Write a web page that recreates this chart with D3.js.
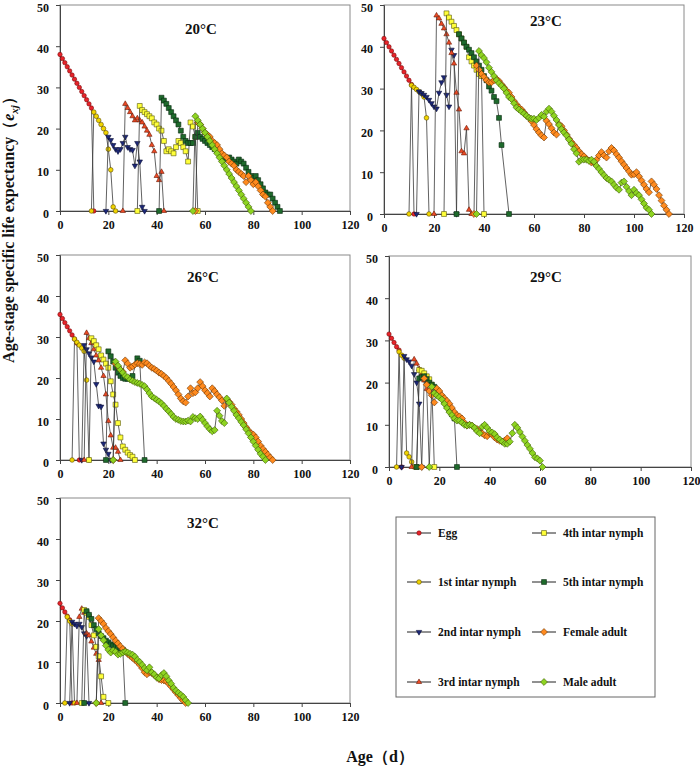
<!DOCTYPE html>
<html><head><meta charset="utf-8">
<script src="https://cdn.jsdelivr.net/npm/d3@7"></script>
<style>
body{margin:0;background:#fff}
svg text{font-family:"Liberation Serif","Times New Roman",serif;font-weight:bold;fill:#111}
</style>
</head><body><svg id="c" width="700" height="767"></svg>
<script>
// ---------------- DATA ----------------
const stages = ["Egg","1st intar nymph","2nd intar nymph","3rd intar nymph","4th intar nymph","5th intar nymph","Female adult","Male adult"];
const temps = ["20°C","23°C","26°C","29°C","32°C"];
const xTicks = [0,20,40,60,80,100,120];
const yTicks = [0,10,20,30,40,50];
// each series: [first age (d), e_xj on consecutive days]; null = no point that day
const e20 = [
  [0,[38,37,36,35,34,33,32,31,30,29,28,27,26,25,0]],
  [13,[0,24,23,22,21,20,19,15,10,1,0]],
  [19,[0,18,17.2,16,15,14.5,15,16.5,18,15.5,15,14.8,11,16.5,12,1,0]],
  [26,[0,26,25,24,23,22,22.5,22,21.5,20.5,19.5,18.5,16,14.5,8.5,7.5,9.5,0]],
  [32,[0,25.5,24.5,24,23.5,23,22.5,21.5,21,20,19.5,17,14.5,15,14.5,14,15.5,17,16.5,15.5,14.5,12,21.5,20.5,18,0]],
  [41,[0,27.5,26.8,26,25,24,23,22,21,19.5,18,17,16.5,16.5,16.5,18,19,18,17.5,17,16.5,16,15.5,15,14.5,14,13.5,13,12.5,13,12.5,12,11.5,12.5,12,11.5,10.5,9.5,8.5,8,8.5,7.5,6.5,5.5,4.5,4,4,3,2,1,0]],
  [56,[0,21.5,21,20,19,18.5,18,17,16.5,16,15,14,13.5,13,12,11.5,11,10,9.5,9,8.5,7,8.5,7.5,6.5,7,6,5,4,3.5,2,1,0]],
  [55,[0,23,22,21,20,19,18,17,16,15,14,13,12,11,10,9,8,7,6,5,4,3,2,1,0]]
];
const e23 = [
  [0,[42,41,40,39,38,37,36,35,34,33,32,31,0]],
  [10,[0,30.8,30.3,29.8,29.3,28.8,28,23,0]],
  [13,[0,29.3,28.9,28.5,28,27.3,26.5,25.7,25.2,29,31.5,32.7,28.5,25.7,39.3,38,0]],
  [20,[0,47.5,46.8,45.5,44.4,43,41,38.5,36,29,25,15,14.5,20.5,1,0]],
  [24,[0,48,47,46,45,44,43,42,41,40,37.5,36.5,35.5,34.5,33.5,33,0]],
  [29,[0,43,42,41,40,39.3,38.5,37.5,36.5,35.5,34.5,33,32,30.5,29.5,28,27,23,16.5,null,null,0]],
  [36,[0,35.5,34.5,33.5,32.8,32,31.5,31.5,32,32.3,31.8,31,30.3,29.5,29,28,27,26.2,25.5,25,24.3,23.5,23,22.2,21.3,20.3,19.5,18.8,18.3,22.3,21.5,20.5,19.5,19,21.5,21,20,19,18,17.2,16.5,15.8,15,14.3,13.8,13.2,12.8,12.3,12.3,13,14,14.8,14,13.5,15,15.8,15.2,14.3,13.5,12.6,11.8,11,10.2,9.4,9.5,10,9,8,7,6,5.2,7.8,7,6,4.5,3.2,2,1,0]],
  [37,[0,39,38,37.3,36.3,35,34,33,32,31.3,30.7,30,29,28,27.5,26.5,25.5,25,24.5,24,23.5,23,22.8,22.8,22.5,23,23.7,23.3,24.5,25.2,24.5,23.5,22.5,21.3,20.3,19.5,18.8,17.8,16.8,15.5,14.5,12.5,13,13,13,12.7,13,12.5,11.5,10.8,10,9.3,8.6,8.2,7.8,7,6.3,5.8,7.5,7.8,6.5,5.5,4.5,5.8,5,4.5,3.5,2.5,1.5,1,0]]
];
const e26 = [
  [0,[35.5,34.5,33.5,32.5,31.5,30.5,29.5,28.5,0]],
  [5,[0,29.5,28.7,28,27.3,26.5,19.5,0]],
  [9,[0,28,27,26,25,24,18.5,13.2,13,4,2.5,1.5,0]],
  [10,[0,31,29.7,28.5,27,25.5,24.3,22.5,20.5,16,9.5,6,3,3,2,0]],
  [12,[0,29.7,29,28,27,25.5,24.5,23.5,22.5,19.2,16,13.5,9,5.5,3.3,2.5,1.8,1.2,0.8,0]],
  [19,[0,26.5,25.3,24,22.5,21.3,20.5,20,19.8,19.8,20,20.5,null,24.8,24.2,null,0]],
  [22,[0,23.5,22.8,22,21.5,24.3,23.5,22.5,22.8,23.3,23.6,23.4,23.2,23.8,23.6,23,22.5,22.2,21.8,21.3,21,20.5,20,19.3,18.6,17.8,17,16,15,14.3,14,15.5,17.5,16.3,16.5,17.5,19,18,17,16.3,15.5,17.5,16.8,16,15.3,14.5,13.2,14.8,14.2,13.5,12.5,11.8,11,10,9,8,7.2,6.5,6.2,5.5,4.5,3.5,2.7,2,1.3,0.6,0]],
  [22,[0,24,23,22,21.3,20.5,20.2,19.6,19.3,19,18.8,18.6,18.3,18,17.2,16.3,15.5,15.1,14.7,14.3,13.8,13.2,12.5,11.9,11.2,10.5,10,9.8,9.5,9.4,9.4,9.6,9.4,10.5,10.2,10,10.6,9.8,9,8.2,7.5,7,7.3,12,10.8,9.5,9,15,14,13,12,11,10.2,9.3,8.5,7.5,6.5,5.5,4.5,3.5,2.5,1.5,0.8,0]]
];
const e29 = [
  [0,[31.5,30.5,29.5,28.5,27.7,0]],
  [3,[0,27.3,26.5,25.8,3.3,2.4,1.2,0]],
  [5,[0,26.3,25.5,25,24,22,20,15,0]],
  [9,[0,25.5,24.5,23.2,22,20.5,18.5,0]],
  [11,[0,23,22.8,22.2,21.5,20.8,19.5,0]],
  [11,[0,21,21.3,21.5,20.8,20,19.5,19,18,17.3,16.5,15.5,14.5,13.5,12.5,11.5,0]],
  [13,[0,21,19.5,18,17,15.3,18.6,18,17,16.3,15.7,15,14,13,12.3,12,11.5,10.5,9.8,10,9.8,9.3,9,8.5,8,7.5,7.3,8,7.7,7,6.5,6.2,6,6.3,6.8]],
  [16,[0,19,17.5,17,16.5,16,15,14,13,12.3,11.5,11,11,10.5,10,9.8,10,9.8,9.3,8.5,8,9.5,10,9.3,8.5,8.2,7.8,7,6.5,6,5.5,5.5,6,8,10,9.3,8.3,7.2,6.2,5.2,4.3,3.3,2.3,2,1.5,0]]
];
const e32 = [
  [0,[24.3,23.2,22.2,21.2,20.3,0]],
  [2,[0,21,20,19.3,0]],
  [4,[0,19.8,19.3,18.8,19.3,18.5,17,16.3,0]],
  [7,[0,21,23,22,17,16.5,15,13.5,12,10.5,0]],
  [9,[0,22.7,22,21,19,16.5,13.7,11.4,6.5,1.5,null,0]],
  [10,[0,22.4,21.5,20.5,19,18,17,16.3,15.8,15.2,14.8,14.3,14,13.8,13.5,13.3,13,0]],
  [15,[0,20.7,20,19.3,18.3,17.5,16.8,16,15.2,14.5,13.8,13.2,12.6,12,11.5,11,10.5,10,9.3,8.5,7.5,7,7.5,7.3,6.8,6.3,5.8,5.6,5.5,5.3,4.7,4,3.3,2.6,1.9,1.2,0.6,0]],
  [15,[0,18,16.5,15.3,14,13,12.3,12.8,12.5,11.8,12,12.3,12.5,12.3,12,11.8,11.3,10.5,10,9.3,8.5,8,8.7,7.5,7,6.2,6,6.8,7.3,6.5,5.5,4.7,3.7,3,2.5,2,1.5,0.7,0]]
];
const panelData = [e20, e23, e26, e29, e32];

// ---------------- LAYOUT / STYLE ----------------
const panels = [
  {l:60, r:350, t:5,   b:211, tx:201, ty:34},
  {l:384,r:684, t:5,   b:214, tx:546, ty:26},
  {l:60, r:350, t:255, b:460, tx:203, ty:282},
  {l:389,r:691, t:256, b:467, tx:546, ty:282},
  {l:60, r:350, t:498, b:703, tx:203, ty:528}
];
const tri = dir => ({draw(ctx,size){const a=Math.sqrt(size),h=a*0.866;
  ctx.moveTo(0,-dir*h*2/3);ctx.lineTo(a/2,dir*h/3);ctx.lineTo(-a/2,dir*h/3);ctx.closePath();}});
const diamond = {draw(ctx,size){const r=Math.sqrt(size/2);
  ctx.moveTo(0,-r);ctx.lineTo(r,0);ctx.lineTo(0,r);ctx.lineTo(-r,0);ctx.closePath();}};
const styles = [
  {type:d3.symbolCircle, size:15, fill:"#e8232a", stroke:"#7a0c0c"},
  {type:d3.symbolCircle, size:17, fill:"#f0d400", stroke:"#5e4e00"},
  {type:tri(-1), size:30, fill:"#1c2878", stroke:"#0b0f35"},
  {type:tri(1),  size:28, fill:"#ec4a25", stroke:"#6a1a05"},
  {type:d3.symbolSquare, size:24, fill:"#ffff3a", stroke:"#55550a"},
  {type:d3.symbolSquare, size:24, fill:"#1e6a2c", stroke:"#0a2a10"},
  {type:diamond, size:24, fill:"#ff8a1e", stroke:"#6a3505"},
  {type:diamond, size:24, fill:"#8ed421", stroke:"#3c5a05"}
];

const svg = d3.select("#c");

panels.forEach((p,pi)=>{
  const x = d3.scaleLinear().domain([0,120]).range([p.l,p.r]);
  const y = d3.scaleLinear().domain([0,50]).range([p.b,p.t]);
  const g = svg.append("g");
  g.append("rect").attr("x",p.l).attr("y",p.t).attr("width",p.r-p.l).attr("height",p.b-p.t)
    .attr("fill","none").attr("stroke","#8a8a8a").attr("stroke-width",1);
  const ax = g.append("g").attr("transform",`translate(0,${p.b})`)
    .call(d3.axisBottom(x).tickValues(xTicks).tickSize(4).tickPadding(5));
  const ay = g.append("g").attr("transform",`translate(${p.l},0)`)
    .call(d3.axisLeft(y).tickValues(yTicks).tickSize(4).tickPadding(7));
  [ax,ay].forEach(a=>{
    a.select(".domain").attr("stroke","#444");
    a.selectAll(".tick line").attr("stroke","#444");
    a.selectAll("text").attr("font-size",12).attr("font-family","'Liberation Serif',serif").attr("font-weight","bold").attr("fill","#111");
  });
  ay.selectAll("text").attr("dy","0.5em");
  g.append("text").attr("x",p.tx).attr("y",p.ty).attr("text-anchor","middle")
    .attr("font-size",15).text(temps[pi]);

  const line = d3.line().x(d=>x(d.x)).y(d=>y(d.v));
  panelData[pi].forEach((s,si)=>{
    const pts = s[1].map((v,i)=>({x:s[0]+i, v})).filter(d=>d.v!==null);
    g.append("path").datum(pts).attr("d",line).attr("fill","none")
      .attr("stroke","#3a3a3a").attr("stroke-width",0.8);
    const st = styles[si];
    g.selectAll(null).data(pts).enter().append("path")
      .attr("transform",d=>`translate(${x(d.x)},${y(d.v)})`)
      .attr("d",d3.symbol().type(st.type).size(st.size)())
      .attr("fill",st.fill).attr("stroke",st.stroke).attr("stroke-width",0.6);
  });
});

// legend
const lg = svg.append("g");
lg.append("rect").attr("x",396).attr("y",517).attr("width",259).attr("height",180)
  .attr("fill","none").attr("stroke","#666").attr("stroke-width",1);
const rowsY = [533,582,632,682];
stages.forEach((name,i)=>{
  const col = Math.floor(i/4), row = i%4;
  const lx = col===0 ? 407 : 532, yy = rowsY[row];
  lg.append("line").attr("x1",lx).attr("x2",lx+24).attr("y1",yy).attr("y2",yy)
    .attr("stroke","#222").attr("stroke-width",1);
  const st = styles[i];
  lg.append("path").attr("transform",`translate(${lx+12},${yy})`)
    .attr("d",d3.symbol().type(st.type).size(st.size)())
    .attr("fill",st.fill).attr("stroke",st.stroke).attr("stroke-width",0.6);
  lg.append("text").attr("x",lx+31).attr("y",yy+4).attr("font-size",11.5).text(name);
});

// axis titles
const yt = svg.append("text").attr("transform","translate(14,226) rotate(-90)")
  .attr("text-anchor","middle").attr("font-size",16);
yt.append("tspan").text("Age-stage specific life expectancy（");
yt.append("tspan").attr("font-style","italic").text("e");
yt.append("tspan").attr("font-style","italic").attr("font-size",11).attr("dy",4).text("xj");
yt.append("tspan").attr("dy",-4).text("）");
svg.append("text").attr("x",380).attr("y",762).attr("text-anchor","middle")
  .attr("font-size",16).text("Age（d）");
</script>
</body></html>
